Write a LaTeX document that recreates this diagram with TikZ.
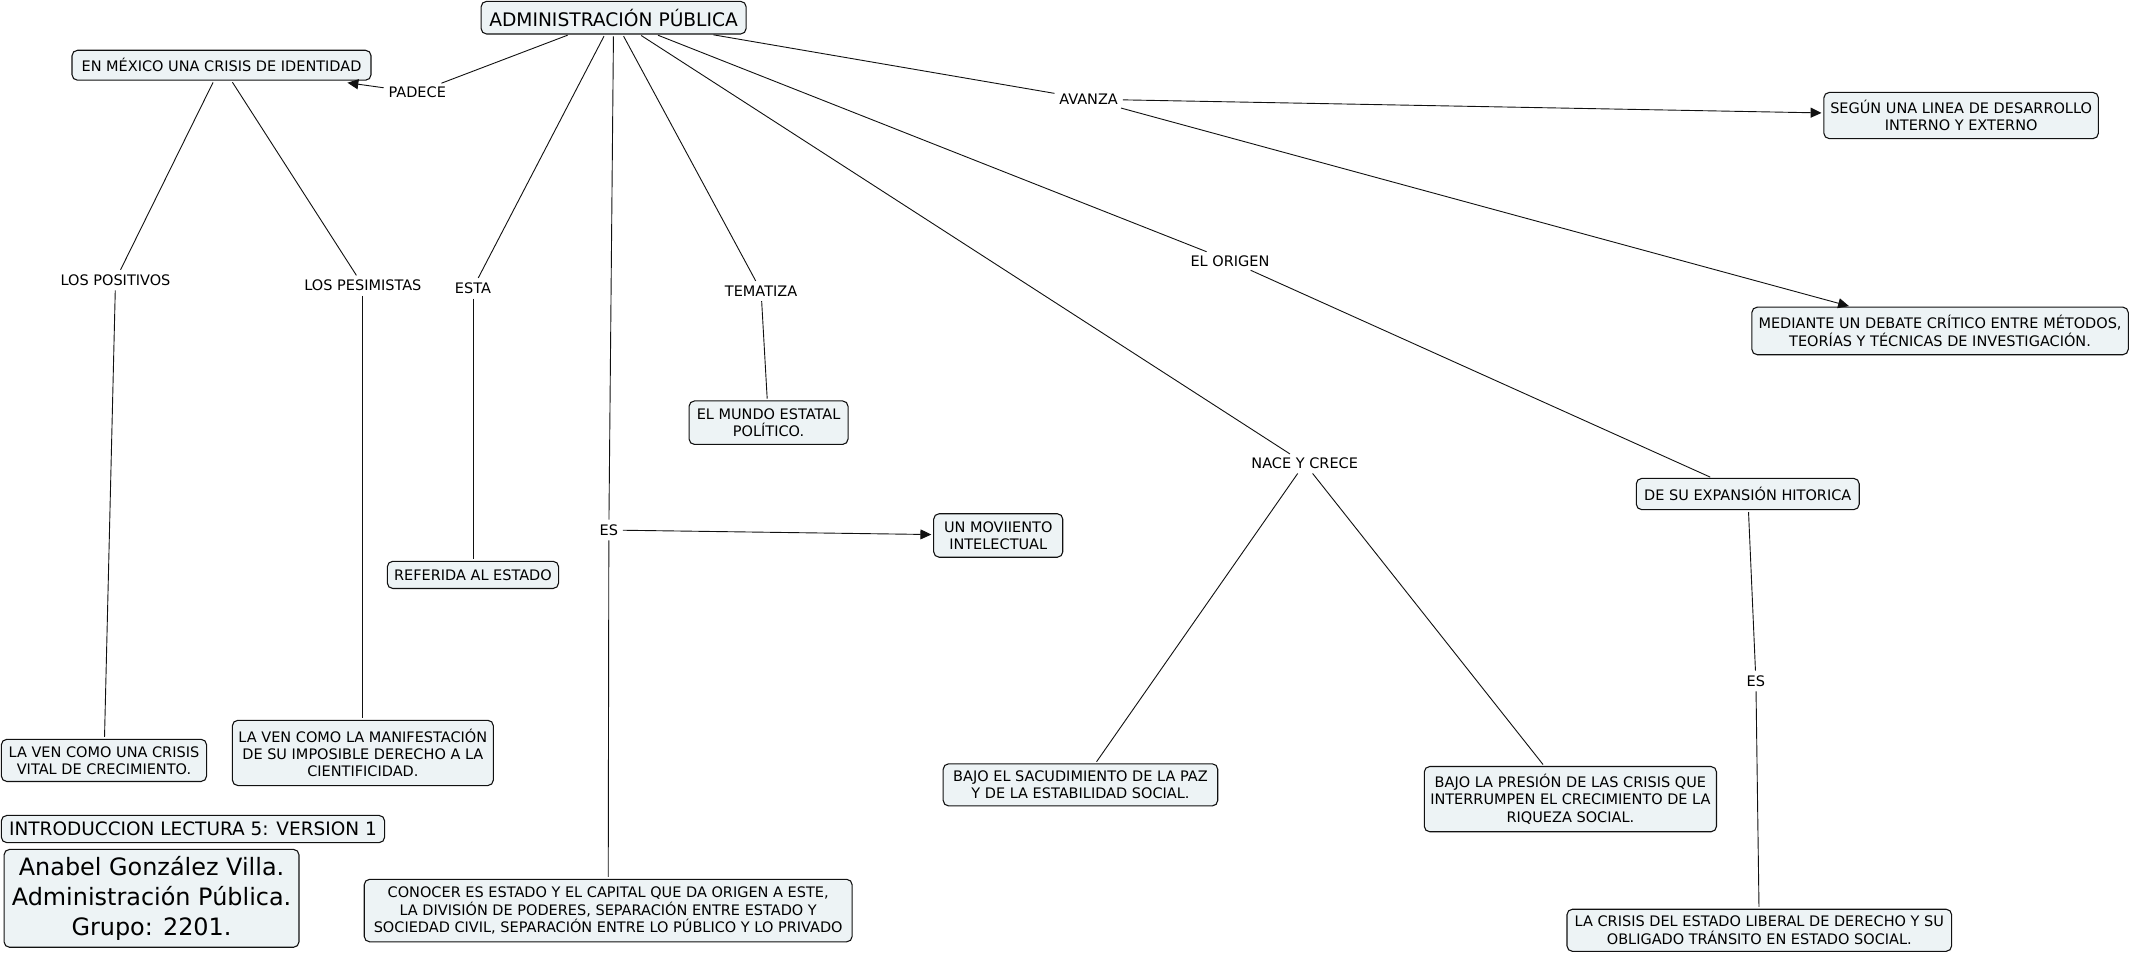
\documentclass[tikz,border=0pt]{standalone}
\usepackage{fontspec}
\setmainfont{DejaVu Sans}
\usetikzlibrary{arrows.meta}
\definecolor{cfill}{HTML}{EDF3F5}
\definecolor{cline}{HTML}{111111}
\tikzset{
  concept/.style={draw=cline, fill=cfill, rounded corners=3pt, align=center,
    font=\fontsize{8}{9.5}\selectfont, inner sep=1pt, line width=0.6pt},
  linkph/.style={font=\fontsize{8}{9.5}\selectfont, inner sep=1.5pt, align=center},
  conn/.style={draw=cline, line width=0.5pt, shorten <=1pt, shorten >=1pt},
  arr/.style={conn, -{Triangle[length=6pt,width=5.5pt]}},
}
\begin{document}
\begin{tikzpicture}[x=0.75pt,y=-0.75pt]
\useasboundingbox (0,0) rectangle (1568,702.7);
% concepts
\node[concept, minimum width=146.25pt, minimum height=18pt, font=\fontsize{10.3}{12}\selectfont] (admin) at (451.5,13) {ADMINISTRACIÓN PÚBLICA};
\node[concept, minimum width=165pt, minimum height=16.5pt] (mex) at (163,48) {EN MÉXICO UNA CRISIS DE IDENTIDAD};
\node[concept, minimum width=87.75pt, minimum height=24pt] (mundo) at (565.5,311) {EL MUNDO ESTATAL\\POLÍTICO.};
\node[concept, minimum width=71.25pt, minimum height=24pt] (movi) at (734.5,394) {UN MOVIIENTO\\INTELECTUAL};
\node[concept, minimum width=94.5pt, minimum height=15pt] (refe) at (348,423) {REFERIDA AL ESTADO};
\node[concept, minimum width=113.25pt, minimum height=23.25pt] (vital) at (76.5,559.5) {LA VEN COMO UNA CRISIS\\VITAL DE CRECIMIENTO.};
\node[concept, minimum width=144pt, minimum height=36pt] (manif) at (267,554) {LA VEN COMO LA MANIFESTACIÓN\\DE SU IMPOSIBLE DERECHO A LA\\CIENTIFICIDAD.};
\node[concept, minimum width=211.5pt, minimum height=15pt, font=\fontsize{10.2}{12}\selectfont] (intro) at (142,610) {INTRODUCCION LECTURA 5: VERSION 1};
\node[concept, minimum width=162.75pt, minimum height=54pt, font=\fontsize{13.2}{16.5}\selectfont] (anabel) at (111.5,661) {Anabel González Villa.\\Administración Pública.\\Grupo: 2201.};
\node[concept, minimum width=269.25pt, minimum height=34.5pt] (conocer) at (447.5,670) {CONOCER ES ESTADO Y EL CAPITAL QUE DA ORIGEN A ESTE,\\LA DIVISIÓN DE PODERES, SEPARACIÓN ENTRE ESTADO Y\\SOCIEDAD CIVIL, SEPARACIÓN ENTRE LO PÚBLICO Y LO PRIVADO};
\node[concept, minimum width=151.5pt, minimum height=25.5pt] (segun) at (1443,85) {SEGÚN UNA LINEA DE DESARROLLO\\INTERNO Y EXTERNO};
\node[concept, minimum width=207.75pt, minimum height=26.25pt] (mediante) at (1427.5,243.5) {MEDIANTE UN DEBATE CRÍTICO ENTRE MÉTODOS,\\TEORÍAS Y TÉCNICAS DE INVESTIGACIÓN.};
\node[concept, minimum width=123pt, minimum height=17.25pt] (expansion) at (1286,363.5) {DE SU EXPANSIÓN HITORICA};
\node[concept, minimum width=151.5pt, minimum height=23.25pt] (sacud) at (795,577.5) {BAJO EL SACUDIMIENTO DE LA PAZ\\Y DE LA ESTABILIDAD SOCIAL.};
\node[concept, minimum width=161.25pt, minimum height=36pt] (presion) at (1155.5,588) {BAJO LA PRESIÓN DE LAS CRISIS QUE\\INTERRUMPEN EL CRECIMIENTO DE LA\\RIQUEZA SOCIAL.};
\node[concept, minimum width=212.25pt, minimum height=23.25pt] (crisis) at (1294.5,684.5) {LA CRISIS DEL ESTADO LIBERAL DE DERECHO Y SU\\OBLIGADO TRÁNSITO EN ESTADO SOCIAL.};
% linking phrases
\node[linkph] (padece) at (307,68) {PADECE};
\node[linkph] (positivos) at (85,206) {LOS POSITIVOS};
\node[linkph] (pesimistas) at (267,210) {LOS PESIMISTAS};
\node[linkph] (esta) at (348,212) {ESTA};
\node[linkph] (es) at (448,390) {ES};
\node[linkph] (tematiza) at (560,214) {TEMATIZA};
\node[linkph] (avanza) at (801,73) {AVANZA};
\node[linkph] (origen) at (905,192) {EL ORIGEN};
\node[linkph] (nace) at (960,341) {NACE Y CRECE};
\node[linkph] (es2) at (1292,501) {ES};
% connectors
\draw[conn] (admin) -- (padece);
\draw[arr, shorten >=8] (padece) -- (mex);
\draw[conn] (mex) -- (positivos);
\draw[conn] (positivos) -- (vital);
\draw[conn] (mex) -- (pesimistas);
\draw[conn] (pesimistas) -- (manif);
\draw[conn] (admin) -- (esta);
\draw[conn] (esta) -- (refe);
\draw[conn] (admin) -- (es);
\draw[conn] (es) -- (conocer);
\draw[arr] (es) -- (movi);
\draw[conn] (admin) -- (tematiza);
\draw[conn] (tematiza) -- (mundo);
\draw[conn] (admin) -- (nace);
\draw[conn] (nace) -- (sacud);
\draw[conn] (nace) -- (presion);
\draw[conn] (admin) -- (origen);
\draw[conn] (origen) -- (expansion);
\draw[conn] (expansion) -- (es2);
\draw[conn] (es2) -- (crisis);
\draw[conn] (admin) -- (avanza);
\draw[arr] (avanza) -- (segun);
\draw[arr] (avanza) -- (mediante);
\end{tikzpicture}
\end{document}
